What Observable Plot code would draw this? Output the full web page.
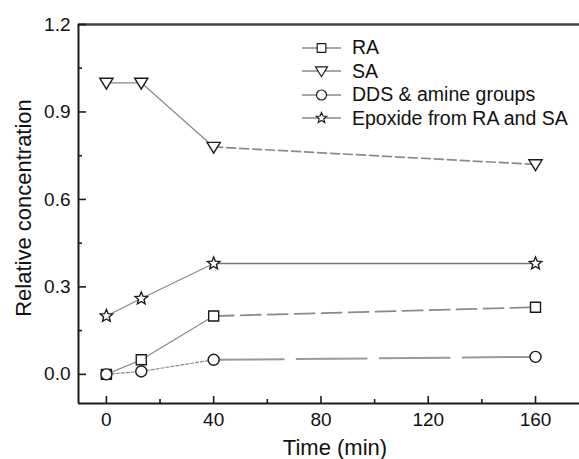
<!DOCTYPE html>
<html><head><meta charset="utf-8">
<script src="https://cdn.jsdelivr.net/npm/d3@7"></script>
<script src="https://cdn.jsdelivr.net/npm/@observablehq/plot@0.6"></script>
<style>
body{margin:0;background:#fff;font-family:"Liberation Sans",Arial,sans-serif;}
#wrap{position:relative;width:579px;height:459px;overflow:hidden}
#legend{position:absolute;left:302px;top:36px;}
.row{display:flex;align-items:center;height:23.5px;font-size:19.5px;color:#111;white-space:nowrap}
.row svg{margin-right:11px;flex:none}
</style></head><body><div id="wrap"><div id="legend"></div></div>
<script>
// ---- data ----
const times = [0, 13, 40, 160];
const seriesNames = ["RA", "SA", "DDS & amine groups", "Epoxide from RA and SA"];
const raValues = [0, 0.05, 0.20, 0.23];
const saValues = [1.0, 1.0, 0.78, 0.72];
const ddsValues = [0, 0.01, 0.05, 0.06];
const epoxideValues = [0.20, 0.26, 0.38, 0.38];
const xTicks = [0, 40, 80, 120, 160];
const xMinorTicks = [20, 60, 100, 140];
const yTicks = [0, 0.3, 0.6, 0.9, 1.2];
const yMinorTicks = [0.15, 0.45, 0.75, 1.05];
const xDomain = [-10.4, 176.4];
const yDomain = [-0.1, 1.2];
const xLabel = "Time (min)";
const yLabel = "Relative concentration";

// ---- symbols ----
const R = size => Math.sqrt(size / Math.PI);
const sym = {
  square: {draw(c, s){const r=R(s); c.moveTo(-r,-r); c.lineTo(r,-r); c.lineTo(r,r); c.lineTo(-r,r); c.closePath();}},
  triDown: {draw(c, s){const r=R(s); c.moveTo(-r,-0.7*r); c.lineTo(r,-0.7*r); c.lineTo(0,r*0.95); c.closePath();}},
  circle: {draw(c, s){const r=R(s); c.moveTo(r,0); c.arc(0,0,r,0,2*Math.PI); c.closePath();}},
  star: {draw(c, s){const r=R(s); for(let i=0;i<10;i++){const a=-Math.PI/2+i*Math.PI/5; const rr=i%2?r*0.45:r; const px=rr*Math.cos(a), py=rr*Math.sin(a); i?c.lineTo(px,py):c.moveTo(px,py);} c.closePath();}}
};

const styles = [
  {values: raValues, symbol: sym.square, r: 5, legendR: 4.3, earlyDash: null, lateDash: "20,7", lateWidth: 1.8, lateStroke: "#8a8a8a"},
  {values: saValues, symbol: sym.triDown, r: 6.6, legendR: 6, earlyDash: null, lateDash: "9,4", lateWidth: 1.7, lateStroke: "#8a8a8a"},
  {values: ddsValues, symbol: sym.circle, r: 5.5, legendR: 5, earlyDash: "3,2", lateDash: "70,13", lateWidth: 2, lateStroke: "#999"},
  {values: epoxideValues, symbol: sym.star, r: 6.5, legendR: 5.5, earlyDash: null, lateDash: null, lateWidth: 1.5, lateStroke: "#777"}
];

const table = [];
seriesNames.forEach((name, k) => times.forEach((t, i) => table.push({series: name, time: t, value: styles[k].values[i]})));

const marks = [];
// lines
seriesNames.forEach((name, k) => {
  const st = styles[k];
  const pts = table.filter(d => d.series === name);
  marks.push(Plot.line(pts.filter(d => d.time <= 40), {x: "time", y: "value", stroke: "#888", strokeWidth: 1.2, strokeDasharray: st.earlyDash || undefined}));
  marks.push(Plot.line(pts.filter(d => d.time >= 40), {x: "time", y: "value", stroke: st.lateStroke, strokeWidth: st.lateWidth, strokeDasharray: st.lateDash || undefined}));
});
// markers
seriesNames.forEach((name, k) => {
  const st = styles[k];
  marks.push(Plot.dot(table.filter(d => d.series === name), {x: "time", y: "value", symbol: st.symbol, r: st.r, fill: "white", stroke: "#1a1a1a", strokeWidth: 1.4}));
});

const W = 579, H = 459, mL = 78, mT = 24, mB = 56, mR = 0;
const plotH = H - mT - mB, plotW = W - mL - mR;

marks.push(
  Plot.ruleY([yDomain[1]], {stroke: "#444", strokeWidth: 2.4}),
  Plot.ruleY([yDomain[0]], {stroke: "#1a1a1a", strokeWidth: 2}),
  Plot.ruleX([xDomain[0]], {stroke: "#1a1a1a", strokeWidth: 2}),
  Plot.tickX(xTicks, {x: d => d, insetTop: plotH - 7, stroke: "#1a1a1a", strokeWidth: 1.6}),
  Plot.tickX(xMinorTicks, {x: d => d, insetTop: plotH - 4, stroke: "#1a1a1a", strokeWidth: 1.6}),
  Plot.tickY(yTicks, {y: d => d, insetRight: plotW - 8, stroke: "#1a1a1a", strokeWidth: 1.6}),
  Plot.tickY(yMinorTicks, {y: d => d, insetRight: plotW - 4, stroke: "#1a1a1a", strokeWidth: 1.6}),
  Plot.axisX(xTicks, {tickSize: 0, tickPadding: 9, fontSize: 19, fill: "#111", label: null}),
  Plot.axisY(yTicks, {tickSize: 0, tickPadding: 8, fontSize: 19, fill: "#111", label: null, tickFormat: d3.format(".1f")}),
  Plot.text([xLabel], {text: d => d, frameAnchor: "bottom", textAnchor: "middle", lineAnchor: "middle", dy: 44, dx: 6, fontSize: 22, fill: "#111"}),
  Plot.text([yLabel], {text: d => d, frameAnchor: "left", textAnchor: "middle", lineAnchor: "middle", dx: -55, dy: -6, rotate: -90, fontSize: 22, fill: "#111"})
);

const chart = Plot.plot({
  width: W, height: H,
  marginLeft: mL, marginTop: mT, marginBottom: mB, marginRight: mR,
  x: {domain: xDomain, axis: null},
  y: {domain: yDomain, axis: null},
  style: {fontFamily: "'Liberation Sans', Arial, sans-serif", background: "white", color: "#111"},
  marks
});
document.getElementById("wrap").prepend(chart);

// legend
const legend = d3.select("#legend");
seriesNames.forEach((name, k) => {
  const st = styles[k];
  const row = legend.append("div").attr("class", "row");
  const svg = row.append("svg").attr("width", 39).attr("height", 20);
  svg.append("line").attr("x1", 0).attr("x2", 39).attr("y1", 10).attr("y2", 10).attr("stroke", "#888").attr("stroke-width", 1.3);
  const p = d3.path();
  st.symbol.draw(p, Math.PI * st.legendR * st.legendR);
  svg.append("path").attr("d", p.toString()).attr("transform", "translate(19.5,10)").attr("fill", "white").attr("stroke", "#1a1a1a").attr("stroke-width", 1.2);
  row.append("span").text(name);
});
</script>
</body></html>
